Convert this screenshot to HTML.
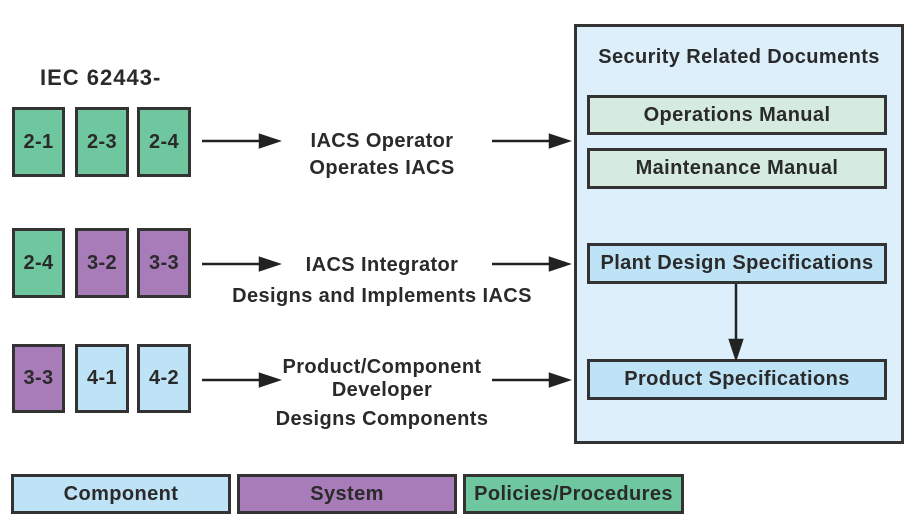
<!DOCTYPE html>
<html><head><style>
body{margin:0;width:920px;height:524px;background:#fff;position:relative;font-family:"Liberation Sans",sans-serif;font-weight:bold;color:#2a2a2a;overflow:hidden}
.b{position:absolute;box-sizing:border-box;border:3px solid #333;display:flex;align-items:center;justify-content:center;font-size:20px;letter-spacing:0.4px;text-align:center;white-space:nowrap}
.g{background:#6fc79f}.p{background:#a77cb8}.c{background:#bfe3f6}.lg{background:#d5ebdf}
.t{position:absolute;font-size:20px;letter-spacing:0.4px;text-align:center;line-height:27px;white-space:nowrap}
</style></head><body>
<div class="t" style="left:40px;top:64px;font-size:22px;letter-spacing:1px">IEC 62443-</div>
<div class="b" style="left:574px;top:24px;width:330px;height:420px;background:#dceffb"></div>
<div class="t" style="left:574px;top:44px;width:330px">Security Related Documents</div>
<div class="b lg" style="left:587px;top:95px;width:300px;height:40px">Operations Manual</div>
<div class="b lg" style="left:587px;top:148px;width:300px;height:41px">Maintenance Manual</div>
<div class="b c" style="left:587px;top:243px;width:300px;height:41px">Plant Design Specifications</div>
<div class="b c" style="left:587px;top:359px;width:300px;height:41px">Product Specifications</div>

<div class="b g" style="left:12px;top:107px;width:53px;height:70px">2-1</div>
<div class="b g" style="left:75px;top:107px;width:54px;height:70px">2-3</div>
<div class="b g" style="left:137px;top:107px;width:54px;height:70px">2-4</div>
<div class="b g" style="left:12px;top:228px;width:53px;height:70px">2-4</div>
<div class="b p" style="left:75px;top:228px;width:54px;height:70px">3-2</div>
<div class="b p" style="left:137px;top:228px;width:54px;height:70px">3-3</div>
<div class="b p" style="left:12px;top:344px;width:53px;height:69px">3-3</div>
<div class="b c" style="left:75px;top:344px;width:54px;height:69px">4-1</div>
<div class="b c" style="left:137px;top:344px;width:54px;height:69px">4-2</div>

<div class="t" style="left:282px;top:128px;width:200px">IACS Operator<br>Operates IACS</div>
<div class="t" style="left:232px;top:250px;width:300px;line-height:31px">IACS Integrator<br>Designs and Implements IACS</div>
<div class="t" style="left:262px;top:356px;width:240px;line-height:23px">Product/Component<br>Developer<br><span style="line-height:34px">Designs Components</span></div>

<svg style="position:absolute;left:0;top:0" width="920" height="524">
<g stroke="#222" stroke-width="2.5" fill="#222">
<line x1="202" y1="141" x2="262" y2="141"/><polygon points="260,135 278,141 260,147"/>
<line x1="492" y1="141" x2="552" y2="141"/><polygon points="550,135 568,141 550,147"/>
<line x1="202" y1="264" x2="262" y2="264"/><polygon points="260,258 278,264 260,270"/>
<line x1="492" y1="264" x2="552" y2="264"/><polygon points="550,258 568,264 550,270"/>
<line x1="202" y1="380" x2="262" y2="380"/><polygon points="260,374 278,380 260,386"/>
<line x1="492" y1="380" x2="552" y2="380"/><polygon points="550,374 568,380 550,386"/>
<line x1="736" y1="284" x2="736" y2="342"/><polygon points="730,340 736,358 742,340"/>
</g></svg>

<div class="b c" style="left:11px;top:474px;width:220px;height:40px">Component</div>
<div class="b p" style="left:237px;top:474px;width:220px;height:40px">System</div>
<div class="b g" style="left:463px;top:474px;width:221px;height:40px">Policies/Procedures</div>
</body></html>
